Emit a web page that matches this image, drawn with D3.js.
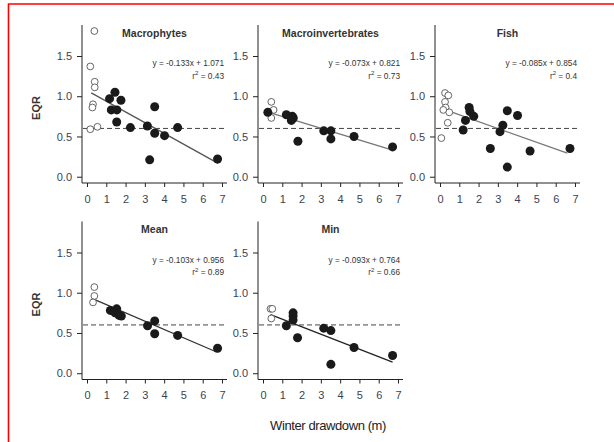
<!DOCTYPE html>
<html>
<head>
<meta charset="utf-8">
<script src="https://cdn.jsdelivr.net/npm/d3@7"></script>
<style>
  body { margin: 0; background: #fff; }
  svg { display: block; }
  text { font-family: "Liberation Sans", Arial, sans-serif; }
</style>
</head>
<body>
<svg id="chart" width="614" height="442"></svg>
<script>
// Panels, regression fits and points: [drawdown m, EQR]
var titles = ['Macrophytes', 'Macroinvertebrates', 'Fish', 'Mean', 'Min'];
var slopes = [-0.133, -0.073, -0.085, -0.103, -0.093];
var intercepts = [1.071, 0.821, 0.854, 0.956, 0.764];
var r2 = ['0.43', '0.73', '0.4', '0.89', '0.66'];
var fitFrom = [0.22, 0.39, 0.18, 0.31, 0.39];
var fitTo = [6.8, 6.72, 6.6, 6.72, 6.72];
var threshold = 0.6;
var xTicks = [0, 1, 2, 3, 4, 5, 6, 7];
var yTicks = [0, 0.5, 1, 1.5];

var macrophytesOpen = [[0.38, 1.81], [0.17, 1.37], [0.40, 1.18], [0.40, 1.11], [0.31, 0.90],
                       [0.28, 0.86], [0.17, 0.59], [0.54, 0.62]];
var macrophytesFilled = [[1.45, 1.05], [1.17, 0.97], [1.76, 0.95], [1.26, 0.83], [1.55, 0.83],
                         [1.54, 0.68], [2.25, 0.61], [3.13, 0.63], [3.51, 0.87], [3.51, 0.54],
                         [4.02, 0.51], [4.70, 0.61], [3.25, 0.21], [6.77, 0.22]];

var invertOpen = [[0.43, 0.93], [0.30, 0.80], [0.55, 0.83], [0.43, 0.73]];
var invertFilled = [[0.25, 0.80], [1.21, 0.77], [1.52, 0.75], [1.47, 0.70], [1.57, 0.73],
                    [1.81, 0.44], [3.15, 0.57], [3.52, 0.57], [3.52, 0.47], [4.72, 0.50],
                    [6.72, 0.37]];

var fishOpen = [[0.26, 1.04], [0.43, 1.01], [0.26, 0.93], [0.29, 0.86], [0.17, 0.83],
                [0.48, 0.80], [0.40, 0.67], [0.07, 0.48]];
var fishFilled = [[1.51, 0.86], [1.55, 0.81], [1.32, 0.70], [1.75, 0.75], [1.20, 0.58],
                  [2.61, 0.35], [3.11, 0.56], [3.26, 0.64], [3.49, 0.82], [4.02, 0.76],
                  [4.67, 0.32], [3.49, 0.12], [6.74, 0.35]];

var meanOpen = [[0.38, 1.07], [0.38, 0.96], [0.31, 0.88]];
var meanFilled = [[1.21, 0.78], [1.54, 0.80], [1.45, 0.75], [1.66, 0.72], [1.78, 0.71],
                  [3.14, 0.59], [3.51, 0.65], [3.51, 0.49], [4.70, 0.47], [6.77, 0.31]];

var minOpen = [[0.39, 0.80], [0.48, 0.80], [0.43, 0.68]];
var minFilled = [[1.56, 0.75], [1.56, 0.71], [1.56, 0.66], [1.21, 0.59], [1.79, 0.44],
                 [3.15, 0.56], [3.52, 0.53], [3.52, 0.11], [4.72, 0.32], [6.72, 0.22]];

var openSets = [macrophytesOpen, invertOpen, fishOpen, meanOpen, minOpen];
var filledSets = [macrophytesFilled, invertFilled, fishFilled, meanFilled, minFilled];

// layout
var plotW = 145, plotH = 158;
var colLeft = [82, 258, 435];
var rowTop = [25, 221.5];
var lineColors = ['#555', '#777', '#777', '#333', '#222'];
var tickColor = '#3b3f52';

var svg = d3.select('#chart');

// red frame of the clipping
svg.append('path')
    .attr('d', 'M8.5,442 V4 H614')
    .attr('fill', 'none')
    .attr('stroke', '#f00')
    .attr('stroke-width', 1.6);

titles.forEach(function (title, i) {
    var left = colLeft[i % 3];
    var top = rowTop[Math.floor(i / 3)];

    var x = d3.scaleLinear().domain([-0.26, 7.26]).range([0, plotW]);
    var y = d3.scaleLinear().domain([-0.078, 1.885]).range([plotH, 0]);

    var g = svg.append('g').attr('transform', `translate(${left},${top})`);

    // L-shaped frame
    g.append('path')
        .attr('d', `M0,0 V${plotH} H${plotW}`)
        .attr('fill', 'none')
        .attr('stroke', '#222')
        .attr('stroke-width', 1);

    var yAxis = g.append('g')
        .call(d3.axisLeft(y).tickValues(yTicks).tickFormat(d3.format('.1f')).tickSize(5).tickPadding(5));
    yAxis.select('.domain').remove();
    yAxis.selectAll('line').attr('stroke', '#222');
    yAxis.selectAll('text').attr('font-size', 11).attr('fill', tickColor)
        .attr('font-family', '"Liberation Sans", Arial, sans-serif');

    var xAxis = g.append('g')
        .attr('transform', `translate(0,${plotH})`)
        .call(d3.axisBottom(x).tickValues(xTicks).tickSize(4).tickPadding(8));
    xAxis.select('.domain').remove();
    xAxis.selectAll('line').attr('stroke', '#222');
    xAxis.selectAll('text').attr('font-size', 11).attr('fill', tickColor)
        .attr('font-family', '"Liberation Sans", Arial, sans-serif');

    // 0.6 threshold
    g.append('line')
        .attr('x1', 1).attr('x2', plotW)
        .attr('y1', y(threshold)).attr('y2', y(threshold))
        .attr('stroke', '#444')
        .attr('stroke-width', 1)
        .attr('stroke-dasharray', '5,3');

    // regression line
    var f = function (v) { return slopes[i] * v + intercepts[i]; };
    g.append('line')
        .attr('x1', x(fitFrom[i])).attr('y1', y(f(fitFrom[i])))
        .attr('x2', x(fitTo[i])).attr('y2', y(f(fitTo[i])))
        .attr('stroke', lineColors[i])
        .attr('stroke-width', 1.3);

    g.selectAll('circle.open')
        .data(openSets[i])
        .enter()
        .append('circle')
            .attr('class', 'open')
            .attr('cx', function (d) { return x(d[0]); })
            .attr('cy', function (d) { return y(d[1]); })
            .attr('r', 3.4)
            .attr('fill', '#fff')
            .attr('stroke', '#555')
            .attr('stroke-width', 0.9);

    g.selectAll('circle.filled')
        .data(filledSets[i])
        .enter()
        .append('circle')
            .attr('class', 'filled')
            .attr('cx', function (d) { return x(d[0]); })
            .attr('cy', function (d) { return y(d[1]); })
            .attr('r', 4.5)
            .attr('fill', '#1a1a1a');

    g.append('text')
        .attr('x', plotW / 2)
        .attr('y', 8)
        .attr('dy', '0.35em')
        .attr('text-anchor', 'middle')
        .attr('font-size', 10.5)
        .attr('font-weight', 'bold')
        .attr('fill', '#333')
        .text(title);

    var sign = intercepts[i] >= 0 ? ' + ' : ' - ';
    g.append('text')
        .attr('x', plotW - 3)
        .attr('y', 38.5)
        .attr('dy', '0.35em')
        .attr('text-anchor', 'end')
        .attr('font-size', 8.3)
        .attr('fill', '#333')
        .text('y = ' + slopes[i].toFixed(3) + 'x' + sign + Math.abs(intercepts[i]).toFixed(3));

    var rt = g.append('text')
        .attr('x', plotW - 3)
        .attr('y', 51)
        .attr('dy', '0.35em')
        .attr('text-anchor', 'end')
        .attr('font-size', 8.3)
        .attr('fill', '#333');
    rt.append('tspan').text('r');
    rt.append('tspan').attr('dy', -3.5).attr('font-size', 6).text('2');
    rt.append('tspan').attr('dy', 3.5).text(' = ' + r2[i]);
});

// axis titles
[rowTop[0] + plotH / 2 + 4, rowTop[1] + plotH / 2 + 4].forEach(function (cy) {
    svg.append('text')
        .attr('transform', `translate(36,${cy}) rotate(-90)`)
        .attr('text-anchor', 'middle')
        .attr('dy', '0.35em')
        .attr('font-size', 11)
        .attr('font-weight', 'bold')
        .attr('fill', '#333')
        .text('EQR');
});

svg.append('text')
    .attr('x', 328)
    .attr('y', 425)
    .attr('dy', '0.35em')
    .attr('text-anchor', 'middle')
    .attr('font-size', 13)
    .attr('letter-spacing', -0.4)
    .attr('fill', '#222')
    .text('Winter drawdown (m)');
</script>
</body>
</html>
